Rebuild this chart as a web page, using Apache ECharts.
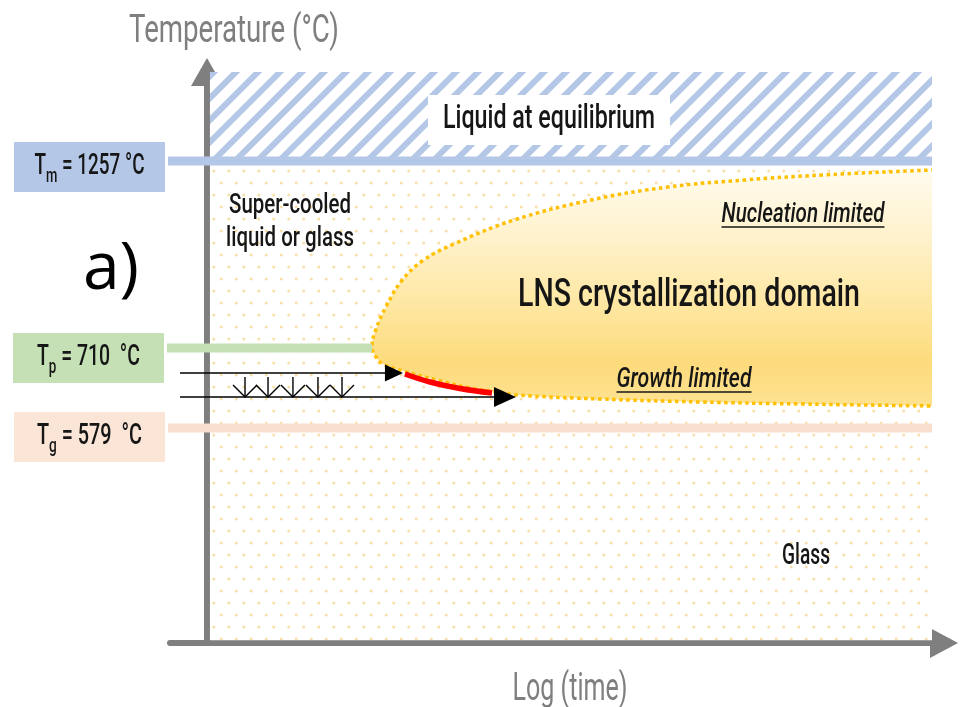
<!DOCTYPE html>
<html><head><meta charset="utf-8">
<script src="https://cdn.jsdelivr.net/npm/echarts@6/dist/echarts.min.js"></script>
<style>html,body{margin:0;padding:0;background:#fff}#c{width:961px;height:707px}</style>
</head><body><div id="c"></div>
<script>
// ---------- data (schematic units: x = log(time) 0..98, y = temperature level 0..100) ----------
const levelSymbols = ['m', 'p', 'g'];
const levelTemps = [1257, 710, 579];
const levelY = [84.41, 51.66, 37.65];
const levelXStart = [-5.27, -5.41, -5.27];
const levelXEnd = [98, 22.3, 98];

const domainUpper = [[105, 83.2], [98, 82.84], [83.13, 81.96], [72.72, 81.09], [62.31, 79.86], [51.91, 77.58],
  [41.5, 74.08], [33.66, 70.05], [29.2, 67.0], [26.3, 63.4], [24.2, 58.9], [22.8, 54.8], [22.3, 51.84]];
const domainLower = [[22.84, 50.09], [23.79, 48.86], [26.49, 47.64], [31.09, 46.06], [35.55, 44.66], [39.2, 43.96],
  [41.9, 43.43], [53.12, 42.73], [66.64, 42.21], [80.16, 41.86], [98, 41.51], [105, 41.4]];
const growthPath = [[26.76, 47.11], [30.14, 45.71], [34.2, 44.57], [38.52, 43.78]];

const flowArrowY = [47.29, 43.08];
const flowArrowStart = [-3.65, -3.65];
const flowArrowTip = [26.49, 41.77];

const quenchX = [5.14, 8.25, 11.62, 15.0, 18.25];
const quenchTop = 46.58;
const quenchBottom = 43.08;

const liquidRegion = [0.4, 85.1, 98, 100];   // x0, y0, x1, y1
const glassRegion = [0.4, 0.5, 98, 83.8];

const axisTitles = ['Temperature (°C)', 'Log (time)'];
const noteText = ['Liquid at equilibrium', 'Super-cooled\nliquid or glass', 'LNS crystallization domain',
  'Nucleation limited', 'Growth limited', 'Glass', 'a)', axisTitles[0], axisTitles[1]];
const noteX = [46.23, 11.22, 65.15, 80.56, 64.48, 80.97, -12.98, 3.65, 49.07];
const noteY = [91.59, 73.56, 60.77, 74.96, 46.06, 15.06, 65.32, 107.0, -8.2];

// ---------- styles ----------
const FONT = "Roboto,'DejaVu Sans',sans-serif";
const INK = '#161616';
const AXIS = '#7f7f7f';
const levelColor = ['#b4c7e7', '#c5e0b4', '#fbe5d6'];
const levelLineColor = ['#b4c7e7', '#c5e0b4', '#f9dfcd'];
const levelBoxDy = [6, 10, 9];
const levelGap = [' ', '  ', '  '];
const levelTextWidth = [110, 103, 105];
const noteStyle = [
  {size: 33, w: 212, box: [242, 50]},
  {size: 28, w: 128, lh: 33},
  {size: 38, w: 342},
  {size: 27, w: 163, italic: true, underline: 12},
  {size: 28, w: 135, italic: true, underline: 12},
  {size: 29, w: 48},
  {size: 66, family: "'Open Sans',sans-serif", color: '#000', weight: 400},
  {size: 39, w: 210, color: AXIS, weight: 400},
  {size: 39, w: 115, color: AXIS, weight: 400}
];
const arrowHead = [[18, 17], [22, 20]];

function makeHatch() {
  const P = 22, c = document.createElement('canvas');
  c.width = P; c.height = P;
  const g = c.getContext('2d');
  g.fillStyle = '#fff'; g.fillRect(0, 0, P, P);
  g.strokeStyle = '#b4c7e7'; g.lineWidth = 6;
  g.beginPath();
  g.moveTo(-2, P + 2); g.lineTo(P + 2, -2);
  g.moveTo(-P / 2 - 2, P / 2 + 2); g.lineTo(P / 2 + 2, -P / 2 - 2);
  g.moveTo(P / 2 - 2, P * 1.5 + 2); g.lineTo(P * 1.5 + 2, P / 2 - 2);
  g.stroke();
  return c;
}
function makeDots() {
  const W = 15, H = 24, c = document.createElement('canvas');
  c.width = W; c.height = H;
  const g = c.getContext('2d');
  g.fillStyle = '#fff'; g.fillRect(0, 0, W, H);
  g.fillStyle = '#f8dfaa';
  [[3.75, 3], [11.25, 15]].forEach(function (d) {
    g.beginPath(); g.arc(d[0], d[1], 1.5, 0, Math.PI * 2); g.fill();
  });
  return c;
}
const regionFill = [{image: makeDots(), repeat: 'repeat'}, {image: makeHatch(), repeat: 'repeat'}];
const regionData = [glassRegion, liquidRegion];

const measureCtx = document.createElement('canvas').getContext('2d');
function textWidth(t, size, italic, weight, family) {
  measureCtx.font = (italic ? 'italic ' : '') + (weight || 500) + ' ' + size + 'px ' + (family || FONT);
  return Math.max.apply(null, t.split('\n').map(function (s) { return measureCtx.measureText(s).width; }));
}

const chart = echarts.init(document.getElementById('c'), null, {renderer: 'canvas'});
chart.setOption({
  animation: false,
  backgroundColor: '#fff',
  grid: {left: 170, top: 72, width: 762, height: 571},
  xAxis: {
    type: 'value', min: -5, max: 98,
    axisLine: {show: true, onZero: true, symbol: ['none', 'triangle'], symbolSize: [30, 28], symbolOffset: [0, 12],
      lineStyle: {color: AXIS, width: 6}},
    axisTick: {show: false}, axisLabel: {show: false}, splitLine: {show: false}
  },
  yAxis: {
    type: 'value', min: 0, max: 100,
    axisLine: {show: true, onZero: true, symbol: ['none', 'triangle'], symbolSize: [32, 28],
      lineStyle: {color: AXIS, width: 6}},
    axisTick: {show: false}, axisLabel: {show: false}, splitLine: {show: false}
  },
  series: [
    { // background regions
      type: 'custom', clip: false, silent: true, data: [0, 1],
      renderItem: function (params, api) {
        const r = regionData[params.dataIndex];
        const a = api.coord([r[0], r[3]]), b = api.coord([r[2], r[1]]);
        return {type: 'rect', shape: {x: a[0], y: a[1], width: b[0] - a[0], height: b[1] - a[1]},
          style: {fill: regionFill[params.dataIndex]}};
      }
    },
    { // crystallization domain
      type: 'custom', clip: true, silent: true, data: [0],
      renderItem: function (params, api) {
        const pts = domainUpper.concat(domainLower).map(function (p) { return api.coord(p); });
        return {type: 'group', children: [
          {type: 'polygon', shape: {points: pts, smooth: 0.4},
            style: {fill: new echarts.graphic.LinearGradient(0, 0, 0, 1, [
              {offset: 0, color: '#fffcf3'}, {offset: 0.3, color: '#fff2cc'}, {offset: 0.55, color: '#fee8a5'},
              {offset: 0.8, color: '#fddb7c'}, {offset: 1, color: '#fee497'}])}},
          {type: 'polyline', shape: {points: pts, smooth: 0.4},
            style: {fill: null, stroke: '#ffc000', lineWidth: 3.5, lineDash: [3.5, 3.5]}}
        ]};
      }
    },
    { // growth-limited (red) segment
      type: 'custom', clip: false, silent: true, data: [0],
      renderItem: function (params, api) {
        return {type: 'polyline', shape: {points: growthPath.map(function (p) { return api.coord(p); }), smooth: 0.4},
          style: {fill: null, stroke: '#ff0000', lineWidth: 5.5}};
      }
    },
    { // characteristic temperature lines and labels
      type: 'custom', clip: false, silent: true, data: [0, 1, 2],
      renderItem: function (params, api) {
        const i = params.dataIndex;
        const a = api.coord([levelXStart[i], levelY[i]]), b = api.coord([levelXEnd[i], levelY[i]]);
        const bw = 151, bh = 50, bx = a[0] - 3 - bw, by = a[1] + levelBoxDy[i] - bh / 2;
        const rest = ' = ' + levelTemps[i] + levelGap[i] + '°C';
        const natural = textWidth('T' + rest, 29) + textWidth(levelSymbols[i], 20);
        return {type: 'group', children: [
          {type: 'line', shape: {x1: a[0], y1: a[1], x2: b[0], y2: b[1]},
            style: {stroke: levelLineColor[i], lineWidth: 9}},
          {type: 'rect', shape: {x: bx, y: by, width: bw, height: bh}, style: {fill: levelColor[i]}},
          {type: 'text', x: bx + bw / 2, y: by + bh / 2, scaleX: levelTextWidth[i] / natural, style: {
            text: '{t|T}{s|' + levelSymbols[i] + '}{t|' + rest + '}',
            align: 'center', verticalAlign: 'middle',
            rich: {
              t: {fontFamily: FONT, fontSize: 29, fontWeight: 500, fill: INK},
              s: {fontFamily: FONT, fontSize: 20, fontWeight: 500, fill: INK, padding: [20, 0, 0, 0]}
            }}}
        ]};
      }
    },
    { // cooling / heating arrows
      type: 'custom', clip: false, silent: true, data: [0, 1],
      renderItem: function (params, api) {
        const i = params.dataIndex;
        const a = api.coord([flowArrowStart[i], flowArrowY[i]]), t = api.coord([flowArrowTip[i], flowArrowY[i]]);
        const L = arrowHead[i][0], W = arrowHead[i][1];
        return {type: 'group', children: [
          {type: 'line', shape: {x1: a[0], y1: a[1], x2: t[0] - L + 1, y2: t[1]}, style: {stroke: '#000', lineWidth: 1.6}},
          {type: 'polygon', shape: {points: [[t[0], t[1]], [t[0] - L, t[1] - W / 2], [t[0] - L, t[1] + W / 2]]},
            style: {fill: '#000'}}
        ]};
      }
    },
    { // quench arrows
      type: 'custom', clip: false, silent: true, data: quenchX.map(function (v, i) { return i; }),
      renderItem: function (params, api) {
        const i = params.dataIndex;
        const top = api.coord([quenchX[i], quenchTop]), bot = api.coord([quenchX[i], quenchBottom]);
        return {type: 'group', children: [
          {type: 'line', shape: {x1: top[0], y1: top[1], x2: bot[0], y2: bot[1]}, style: {stroke: '#000', lineWidth: 1.4}},
          {type: 'polyline', shape: {points: [[bot[0] - 12, bot[1] - 12], [bot[0], bot[1]], [bot[0] + 12, bot[1] - 12]]},
            style: {fill: null, stroke: '#000', lineWidth: 1.4}}
        ]};
      }
    },
    { // annotations and axis titles
      type: 'custom', clip: false, silent: true, data: noteText.map(function (v, i) { return i; }),
      renderItem: function (params, api) {
        const i = params.dataIndex, st = noteStyle[i];
        const c = api.coord([noteX[i], noteY[i]]);
        const fam = st.family || FONT, wt = st.weight || 500;
        const nat = textWidth(noteText[i], st.size, st.italic, wt, fam);
        const sx = st.w ? st.w / nat : 1;
        const kids = [];
        if (st.box) kids.push({type: 'rect', shape: {x: c[0] - st.box[0] / 2, y: c[1] - st.box[1] / 2,
          width: st.box[0], height: st.box[1]}, style: {fill: '#fff'}});
        kids.push({type: 'text', x: c[0], y: c[1], scaleX: sx, style: {text: noteText[i], fontFamily: fam, fontSize: st.size,
          fontWeight: wt, fontStyle: st.italic ? 'italic' : 'normal', fill: st.color || INK,
          align: 'center', verticalAlign: 'middle', lineHeight: st.lh || st.size * 1.2}});
        if (st.underline) {
          const w = nat * sx;
          kids.push({type: 'line', shape: {x1: c[0] - w / 2, y1: c[1] + st.underline, x2: c[0] + w / 2, y2: c[1] + st.underline},
            style: {stroke: INK, lineWidth: 1.5}});
        }
        return {type: 'group', children: kids};
      }
    }
  ]
});
</script></body></html>
